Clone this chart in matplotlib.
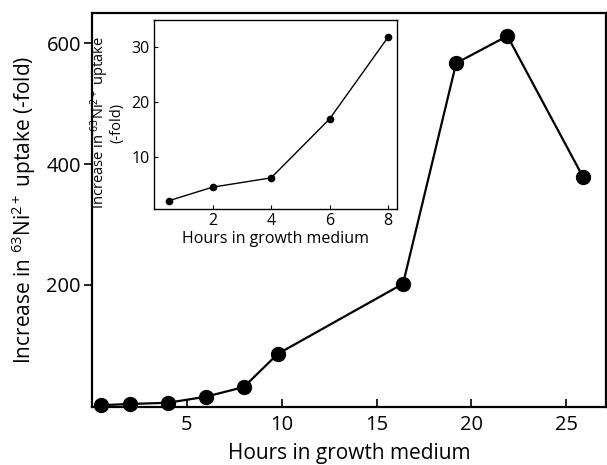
import matplotlib
matplotlib.use("Agg")
import matplotlib.pyplot as plt

plt.rcParams['font.family'] = ['Open Sans', 'DejaVu Sans']
plt.rcParams['mathtext.fontset'] = 'custom'
plt.rcParams['mathtext.rm'] = 'Open Sans'
plt.rcParams['mathtext.it'] = 'Open Sans:italic'
plt.rcParams['mathtext.bf'] = 'Open Sans:bold'

# Main data
hours = [0.5, 2, 4, 6, 8, 9.8, 16.4, 19.2, 21.9, 25.9]
uptake = [1, 3, 5, 15, 31, 86, 202, 567, 612, 378]

# Inset data
inset_hours = [0.5, 2, 4, 6, 8]
inset_uptake = [1.9, 4.4, 6.1, 16.9, 31.9]

main_xticks = [5, 10, 15, 20, 25]
main_yticks = [200, 400, 600]
inset_xticks = [2, 4, 6, 8]
inset_yticks = [10, 20, 30]

W, H = 607, 465
fig = plt.figure(figsize=(W / 100, H / 100), dpi=100)

ax = fig.add_axes([92 / W, 1 - 407 / H, (606 - 92) / W, (407 - 13) / H])
ax.plot(hours, uptake, color='black', lw=1.6, marker='o', ms=10,
        markerfacecolor='black', clip_on=False, zorder=3)
ax.set_xlim(0, 27.1)
ax.set_ylim(-2, 650)
ax.set_xticks(main_xticks)
ax.set_yticks(main_yticks)
ax.tick_params(axis='x', direction='in', length=6, width=1.2, labelsize=14.5, pad=6)
ax.tick_params(axis='y', direction='out', length=6, width=1.2, labelsize=14.5, pad=2)
for s in ax.spines.values():
    s.set_linewidth(1.6)
ax.set_xlabel('Hours in growth medium', fontsize=15, labelpad=5.5)
ax.set_ylabel(r'Increase in $\mathregular{^{63}}$Ni$\mathregular{^{2+}}$ uptake (-fold)',
              fontsize=15, labelpad=6)

ins = fig.add_axes([154 / W, 1 - 209 / H, (397 - 154) / W, (209 - 20) / H])
ins.plot(inset_hours, inset_uptake, color='black', lw=1.0, marker='o', ms=4.5,
         markerfacecolor='black', clip_on=False, zorder=3)
ins.set_xlim(0, 8.3)
ins.set_ylim(0.4, 35)
ins.set_xticks(inset_xticks)
ins.set_yticks(inset_yticks)
ins.tick_params(axis='both', direction='in', length=3, width=0.8, labelsize=11.5, pad=3)
for s in ins.spines.values():
    s.set_linewidth(1.0)
ins.set_xlabel('Hours in growth medium', fontsize=11.5, labelpad=1)
ins.set_ylabel(r'Increase in $\mathregular{^{63}}$Ni$\mathregular{^{2+}}$ uptake' + '\n(-fold)',
               fontsize=10.5, linespacing=0.85)
ins.yaxis.set_label_coords(-0.12, 0.455)

fig.savefig('out.png', dpi=100)
